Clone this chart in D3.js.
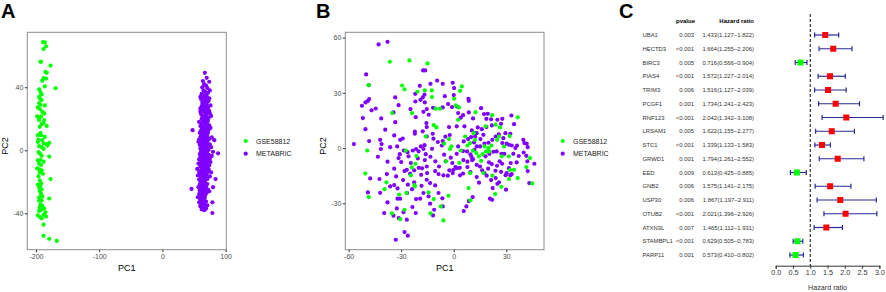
<!DOCTYPE html>
<html>
<head>
<meta charset="utf-8">
<script src="https://cdn.jsdelivr.net/npm/d3@7"></script>
<style>
  body { margin: 0; background: #fff; }
  svg text { font-family: "Liberation Sans", Arial, sans-serif; }
</style>
</head>
<body>
<div id="chart"></div>
<script>
// ---- panel A: PCA before batch correction ----
const pcaA_gse = [
  [-189,68.7],[-186,68.5],[-184,66.0],[-188,64.3],[-192,56.2],[-193,56.2],[-177,53.8],[-185,49.8],
  [-183,49.2],[-188,45.8],[-190,44.1],[-184,45.5],[-186,40.6],[-169,39.4],[-195,38.7],[-193,37.0],
  [-191,35.5],[-195,34.0],[-194,33.0],[-191,31.9],[-195,30.0],[-193,28.9],[-186,28.5],[-197,27.2],
  [-194,26.2],[-190,24.5],[-198,21.5],[-192,21.5],[-195,20.2],[-187,23.4],[-195,19.2],[-188,17.4],
  [-183,15.5],[-194,14.9],[-197,9.6],[-192,9.6],[-186,8.5],[-190,6.4],[-188,4.3],[-183,3.8],
  [-179,4.7],[-182,3.0],[-197,5.3],[-195,2.6],[-191,2.1],[-188,0.9],[-196,-1.1],[-194,-2.1],
  [-191,-3.4],[-179,-4.0],[-193,-6.0],[-197,-6.4],[-188,-7.2],[-195,-8.5],[-192,-9.4],[-198,-11.5],
  [-195,-12.1],[-191,-12.8],[-194,-14.0],[-189,-14.9],[-177,-18.3],[-196,-16.6],[-194,-19.2],[-192,-20.9],
  [-197,-21.7],[-193,-22.6],[-195,-23.8],[-191,-24.9],[-194,-26.0],[-192,-27.7],[-190,-29.4],[-195,-29.8],
  [-179,-30.6],[-191,-31.9],[-193,-34.5],[-190,-35.1],[-194,-36.2],[-190,-36.8],[-187,-37.0],[-192,-37.9],
  [-185,-39.4],[-195,-38.5],[-188,-40.9],[-193,-42.6],[-191,-43.2],[-184,-42.1],[-188,-47.2],[-188,-54.3],
  [-179,-56.2],[-167,-57.5],[-197,-41.3],[-195,-31.9],[-196,6.8],[-193,11.0],[-191,16.6],[-187,19.2]
];
const pcaA_meta = [
  [67,49.2],[70,46],[64,44],[74,43.5],[66,42],[69,41],[63,40],[71,39.5],[65,38],[68,37],
  [72,36.5],[62,35.8],[67,35],[70,34.2],[64,33.5],[74,33],[61,32.5],[68,32],[66,31.2],[71,30.8],
  [63,30.2],[69,36],[75,38],[60,34],[73,31.5],
  [65,29.5],[70,29],[76,28.5],[62,28],[67,27.4],[72,27],[60,26.5],[64,26],[69,25.5],[74,25],
  [66,24.4],[71,23.8],[75,23.4],[61,23],[68,22.5],[63,22],[70,21.5],[65,21],[73,20.5],[67,20.2],
  [60,24.5],[77,21.8],[62,20],
  [69,19.5],[64,19],[72,18.6],[58,18],[66,17.8],[70,17.2],[62,16.8],[68,16.2],[74,15.8],[60,15.4],
  [65,15],[71,14.6],[63,14],[67,13.5],[73,13],[47.7,12.8],[61,12.5],[69,12],[65,11.5],[72,11.2],
  [59,11],[66,10.6],[70,10.2],[63,10],[76,14.2],[68,18.2],
  [62,9.5],[67,9.2],[71,8.8],[60,8.4],[65,8],[69,7.5],[74,7.2],[58,6.8],[63,6.5],[67,6.2],
  [82,6.4],[71,5.8],[61,5.4],[66,5],[70,4.6],[64,4.2],[75,3.8],[59,3.5],[68,3.2],[62,2.8],
  [72,2.5],[65,2],[70,1.6],[60,1.2],[67,0.8],[63,0.4],[73,0.2],[77,2],[57,5.5],[78,8.2],
  [66,-0.4],[61,-0.8],[70,-1.2],[88,-1.9],[64,-1.6],[68,-2],[59,-2.4],[73,-2.8],[62,-3.2],[66,-3.5],
  [71,-3.9],[60,-4.3],[65,-4.7],[69,-5],[75,-5.4],[58,-5.8],[63,-6.2],[67,-6.5],[72,-6.9],[61,-7.3],
  [65,-7.7],[70,-8],[57,-8.4],[62,-8.8],[68,-9.2],[74,-9.5],[64,-9.8],[78,-3.6],[76,-7.5],[80,-1],
  [60,-10.3],[66,-10.7],[71,-11],[63,-11.4],[55,-11.8],[68,-12.2],[61,-12.6],[65,-13],[73,-13.4],[58,-13.8],
  [67,-14.2],[62,-14.6],[70,-15],[64,-15.4],[59,-15.8],[69,-16.2],[75,-16.6],[61,-17],[66,-17.4],[84,-18.3],
  [63,-17.8],[71,-18.2],[58,-18.6],[67,-19],[62,-19.4],[65,-19.8],[73,-12],[56,-16],[77,-14],
  [60,-20.2],[68,-20.6],[64,-21],[71,-21.4],[59,-21.8],[66,-22.2],[62,-22.6],[80,-23.4],[69,-23],[57,-23.4],
  [65,-23.8],[61,-24.2],[46,-24.5],[67,-24.6],[72,-25],[59,-25.4],[63,-25.8],[66,-26.2],[60,-26.6],[70,-27],
  [64,-27.4],[58,-27.8],[68,-28.2],[62,-28.6],[65,-29],[61,-29.4],[74,-26],[56,-29.8],
  [67,-30.2],[63,-30.6],[60,-31],[66,-31.4],[79,-33],[62,-32],[69,-32.5],[58,-33],[64,-33.5],[61,-34],
  [67,-34.5],[71,-35],[60,-35.5],[65,-36],[63,-36.5],[69,-37],[79,-39.8],[62,-37.5],[66,-38]
];

// ---- panel B: PCA after batch correction ----
const pcaB_gse = [
  [-36.5,46.9],[-25.3,47.6],[-15.0,46.0],[-48.6,34.2],[-29.5,34.0],[-28.1,31.9],[-20.7,30.6],[-16.5,31.3],
  [-12.5,31.3],[4.6,33.5],[3.6,31.1],[0.2,26.8],[-12.4,27.7],[-10.3,21.4],[-7.8,21.4],[1.1,23.2],
  [3.0,22.1],[2.5,15.4],[12.4,19.5],[21.9,17.9],[36.5,16.7],[23.9,12.7],[26.4,11.2],[25.8,6.3],
  [31.9,6.5],[18.2,11.8],[11.4,8.1],[12.2,4.5],[9.3,2.7],[7.8,1.4],[6.5,6.3],[11.0,-1.4],
  [12.9,-2.7],[17.5,0.9],[19.8,0.0],[18.4,-1.8],[16.5,-3.3],[14.3,-4.5],[15.6,-6.9],[20.3,-1.8],
  [21.5,1.4],[24.7,4.5],[28.7,0.9],[27.4,-4.5],[31.4,-4.5],[32.1,-11.9],[31.5,-16.8],[36.5,-16.3],
  [41.4,-10.3],[43.5,-5.4],[44.8,-19.2],[34.4,-11.8],[22.0,-15.0],[23.6,-25.0],[27.2,-21.0],[16.9,-13.6],
  [8.4,-21.7],[9.5,-28.4],[9.3,-13.6],[3.2,-8.0],[4.0,-1.3],[-1.3,0.9],[-2.7,4.9],[-2.1,-0.5],
  [-5.5,2.4],[-4.4,-7.2],[-9.9,11.2],[-11.4,12.5],[-16.0,6.3],[-27.4,-1.4],[-23.9,-10.5],[-21.3,-4.3],
  [-21.9,-8.5],[-24.5,-14.8],[-22.4,-20.1],[-27.0,-24.4],[-31.2,-25.2],[-28.1,-33.5],[-30.6,-38.6],[-35.3,-35.5],
  [-38.4,-18.6],[-39.5,-22.3],[-48.5,-26.6],[-50.5,-13.8],[-49.4,-1.3],[-35.2,19.0],[-23.8,19.0],[-14.4,-24.1],
  [-13.3,-35.5],[-11.4,-27.7],[-5.9,-39.3],[-3.0,-25.9],[-7.4,-31.7],[-22.2,-20.8]
];
const pcaB_meta = [
  [-42.9,56.3],[-37.8,57.7],[-50.0,40.0],[-48.5,34.2],[-48.3,26.6],[-49.2,25.5],[-50.4,24.8],[-52.4,23.0],
  [-46.9,20.5],[-44.5,21.5],[-51.9,16.3],[-41.4,16.1],[-57.0,2.2],[-50.4,10.3],[-48.3,3.8],[-41.6,-0.5],
  [-42.0,4.5],[-41.2,2.2],[-43.3,-4.7],[-37.8,-7.4],[-36.3,0.5],[-39.1,10.0],[-33.4,27.5],[-31.5,23.3],
  [-34.4,19.4],[-33.4,14.1],[-34.0,6.9],[-30.6,4.5],[-29.1,5.2],[-30.8,-3.3],[-34.0,-11.2],[-32.9,-15.4],
  [-34.0,-20.1],[-32.1,-21.9],[-32.1,-27.5],[-30.6,-27.5],[-32.5,-32.8],[-34.4,-36.7],[-31.4,-38.0],[-28.7,-34.8],
  [-26.8,-38.9],[-28.1,-45.6],[-26.2,-47.6],[-33.1,-49.8],[-37.8,-29.5],[-39.7,-35.3],[-42.0,-24.3],[-42.4,-16.8],
  [-47.7,-16.5],[-49.0,-24.1],[-38.2,-14.1],[-36.3,-20.8],[-28.9,-17.4],[-28.1,-12.5],[-24.9,-13.9],[-24.5,-8.1],
  [-25.8,-4.5],[-21.5,-0.5],[-20.5,-5.6],[-18.8,0.9],[-16.7,1.6],[-20.0,-10.7],[-18.1,-11.0],[-15.4,-17.2],
  [-15.4,-10.0],[-10.6,-12.5],[-10.6,-20.3],[-8.7,-24.4],[-6.5,-27.3],[-6.3,-31.7],[-11.2,-33.5],[-11.8,-36.6],
  [-14.4,-26.2],[-13.5,-30.2],[-18.4,-20.5],[-21.5,-27.7],[-21.7,-35.3],[-23.6,-32.0],[-26.6,-24.4],[-17.5,42.2],
  [-16.3,42.2],[-9.5,36.7],[-6.3,34.9],[-13.3,34.9],[-19.4,33.8],[-0.6,35.5],[0.2,32.6],[-5.1,28.2],
  [0.0,28.8],[8.4,26.8],[8.6,25.7],[-16.7,29.0],[-17.7,27.5],[-19.0,26.2],[-16.5,24.8],[-15.4,21.2],
  [-17.3,19.7],[-22.0,29.5],[-21.9,25.3],[-24.7,21.2],[-21.7,16.8],[-22.2,8.9],[-22.2,7.8],[-17.7,9.1],
  [-15.6,13.6],[-15.4,11.4],[-12.0,7.8],[-11.6,5.1],[-14.3,18.1],[-11.8,21.9],[-6.3,22.1],[-3.2,23.9],
  [-1.0,22.3],[1.7,22.6],[2.5,19.0],[-2.7,11.4],[-4.8,6.2],[-2.3,7.1],[-6.3,3.8],[-6.8,1.4],
  [-5.5,-3.6],[-4.6,-7.2],[-1.7,-5.2],[-0.8,-8.1],[1.7,-3.1],[-0.6,-13.6],[1.0,-10.3],[3.4,-10.7],
  [5.5,-6.5],[7.8,-7.4],[10.1,-4.7],[11.0,-6.0],[7.6,-1.8],[11.8,-0.9],[5.3,-1.6],[2.5,0.9],
  [5.7,3.6],[8.2,4.9],[9.9,6.0],[10.3,9.6],[6.1,11.8],[1.7,11.8],[4.0,16.5],[5.3,17.9],
  [8.6,19.4],[11.0,16.1],[15.6,21.7],[17.3,18.5],[19.4,18.6],[18.6,15.9],[21.3,15.6],[21.7,12.3],
  [18.6,11.4],[16.0,10.3],[13.7,11.2],[11.8,8.1],[16.9,7.2],[13.1,8.1],[12.2,6.3],[11.6,3.1],
  [15.2,4.9],[13.1,0.9],[15.0,0.9],[17.5,2.4],[19.8,2.9],[22.0,4.5],[23.9,6.3],[25.7,7.4],
  [24.9,15.4],[27.7,15.9],[27.0,13.2],[32.9,17.7],[34.4,13.0],[32.3,7.8],[29.5,8.1],[28.3,5.4],
  [27.7,2.7],[30.2,2.4],[31.5,1.8],[33.1,1.4],[35.2,0.0],[36.1,1.3],[39.7,4.5],[40.3,2.7],
  [41.6,2.4],[42.2,0.5],[39.9,-2.4],[41.4,-4.2],[42.0,-7.2],[46.0,-8.5],[42.2,-12.5],[43.1,-19.0],
  [35.9,-7.8],[37.1,-4.3],[34.0,-3.1],[32.5,-8.1],[31.5,-10.9],[30.2,-13.6],[33.1,-14.1],[29.8,-22.6],
  [22.2,-21.7],[20.7,-27.5],[21.9,-28.1],[24.9,-19.4],[23.9,-16.3],[21.3,-17.4],[18.8,-15.0],[17.5,-13.6],
  [16.2,-12.1],[15.0,-10.0],[13.1,-9.1],[10.5,-6.5],[9.5,-3.4],[18.1,-4.5],[20.3,-3.1],[22.6,-2.0],
  [24.5,-1.8],[27.2,-3.1],[28.9,-3.1],[26.2,-7.2],[27.6,-8.5],[24.7,-9.6],[21.7,-8.7],[20.1,-7.8],
  [19.6,-11.2],[23.8,-12.3],[27.0,-12.9],[29.6,-14.7],[32.3,-14.7],[25.8,-18.6],[8.6,-28.8],[7.2,-31.7],
  [5.7,-34.2],[10.8,-26.6],[14.4,-18.8],[13.1,-15.7],[9.5,-13.0],[7.8,-10.3],[5.3,-13.8],[3.6,-14.8],
  [1.7,-10.9],[-0.2,-11.8],[-2.5,-12.1],[-3.4,-15.0],[-5.9,-14.8],[-8.7,-14.1],[-8.4,-10.0],[-10.5,-7.2],
  [-13.3,-4.7],[-16.0,-3.3],[-16.5,-6.5],[-12.4,-0.4],[-9.1,3.3],[-15.4,6.3],[-17.3,-0.5],[-20.1,-1.8],
  [-23.4,-1.3],[-26.4,-2.2],[-28.5,-1.3],[-32.3,0.9],[-30.0,-7.6],[-31.5,-5.4],[-26.8,-11.8],[-22.6,-12.1],
  [-18.6,-14.5],[-15.2,-13.6],[-13.5,-19.0],[-17.3,-24.4],[-19.2,-27.5],[-26.2,-19.9],[-23.8,-22.3],[-22.6,-18.6]
];

// ---- panel C: univariate Cox forest plot ----
const genes  = ["UBA1","HECTD3","BIRC3","PIAS4","TRIM3","PCGF1","RNF123","LRSAM1","STC1",
                "GRWD1","EED","GNB2","USP30","OTUB2","ATXN3L","STAMBPL1","PARP11"];
const pvals  = ["0.003","<0.001","0.005","<0.001","0.006","0.001","<0.001","0.005","<0.001",
                "0.001","0.009","0.006","0.006","<0.001","0.007","<0.001","0.001"];
const hr     = [1.433,1.664,0.716,1.572,1.516,1.734,2.042,1.622,1.339,1.794,0.613,1.575,1.867,2.021,1.465,0.629,0.573];
const hrLow  = [1.127,1.255,0.566,1.227,1.127,1.241,1.342,1.155,1.133,1.261,0.425,1.141,1.197,1.396,1.112,0.505,0.410];
const hrHigh = [1.822,2.206,0.904,2.014,2.039,2.423,3.108,2.277,1.583,2.552,0.885,2.175,2.911,2.926,1.931,0.783,0.802];
const hrTicks = [0, 0.5, 1, 1.5, 2, 2.5, 3];

const GREEN = "#00ff00", PURPLE = "#7f00ff";

const svg = d3.select("#chart").append("svg")
  .attr("width", 886).attr("height", 292);

// generic pca panel, ggplot theme_bw-ish without grid
const drawPca = (cfg) => {
  const x = d3.scaleLinear().domain(cfg.xDomain).range(cfg.xRange);
  const y = d3.scaleLinear().domain(cfg.yDomain).range(cfg.yRange);
  const g = svg.append("g");

  g.append("rect")
    .attr("x", cfg.xRange[0]).attr("y", cfg.yRange[1])
    .attr("width", cfg.xRange[1] - cfg.xRange[0])
    .attr("height", cfg.yRange[0] - cfg.yRange[1])
    .attr("fill", "none").attr("stroke", "#8c8c8c").attr("stroke-width", 1);

  const fmt = (d) => String(d);
  const xa = g.append("g").attr("transform", `translate(0,${cfg.yRange[0]})`)
    .call(d3.axisBottom(x).tickValues(cfg.xTicks).tickSize(2.5).tickPadding(1.5).tickFormat(fmt));
  const ya = g.append("g").attr("transform", `translate(${cfg.xRange[0]},0)`)
    .call(d3.axisLeft(y).tickValues(cfg.yTicks).tickSize(2.5).tickPadding(1.5).tickFormat(fmt));
  [xa, ya].forEach((a) => {
    a.select(".domain").remove();
    a.selectAll("line").attr("stroke", "#333");
    a.selectAll("text").attr("fill", "#4d4d4d").style("font-size", "7px");
  });

  g.append("g").selectAll("circle").data(cfg.meta).join("circle")
    .attr("cx", (d) => x(d[0])).attr("cy", (d) => y(d[1]))
    .attr("r", 2.1).attr("fill", PURPLE);
  g.append("g").selectAll("circle").data(cfg.gse).join("circle")
    .attr("cx", (d) => x(d[0])).attr("cy", (d) => y(d[1]))
    .attr("r", 2.1).attr("fill", GREEN);

  const midX = (cfg.xRange[0] + cfg.xRange[1]) / 2;
  g.append("text").attr("x", midX).attr("y", 270.5)
    .attr("text-anchor", "middle").style("font-size", "9px").text("PC1");
  g.append("text")
    .attr("transform", `translate(${cfg.xRange[0] - 19},146) rotate(-90)`)
    .attr("text-anchor", "middle").style("font-size", "9px").text("PC2");

  // legend
  const lg = g.append("g").attr("transform", `translate(${cfg.legendX},0)`);
  [["GSE58812", GREEN, 141], ["METABRIC", PURPLE, 153.7]].forEach(([lab, col, ly]) => {
    lg.append("circle").attr("cx", 0).attr("cy", ly).attr("r", 2.1).attr("fill", col);
    lg.append("text").attr("x", 10.3).attr("y", ly + 2.5)
      .attr("fill", "#222").style("font-size", "7px").text(lab);
  });

  g.append("text").attr("x", cfg.labelX).attr("y", 18)
    .style("font-size", "20px").style("font-weight", "bold").text(cfg.label);
};

drawPca({
  label: "A", labelX: 1,
  gse: pcaA_gse, meta: pcaA_meta,
  xDomain: [-213.7, 101], xRange: [27.3, 226.3],
  yDomain: [-63.1, 74.9], yRange: [249.7, 32.3],
  xTicks: [-200, -100, 0, 100], yTicks: [-40, 0, 40],
  legendX: 245.7
});

drawPca({
  label: "B", labelX: 316,
  gse: pcaB_gse, meta: pcaB_meta,
  xDomain: [-61.9, 51.5], xRange: [345.3, 544],
  yDomain: [-55.2, 62.9], yRange: [249.7, 32.3],
  xTicks: [-60, -30, 0, 30], yTicks: [-30, 0, 30, 60],
  legendX: 562.7
});

// forest plot
const fc = svg.append("g");
const xf = d3.scaleLinear().domain([0, 3]).range([775.7, 879.4]);
const rowY = (i) => 35 + i * 13.75;
const BAR = "#28289a";

fc.append("text").attr("x", 619).attr("y", 18)
  .style("font-size", "20px").style("font-weight", "bold").text("C");

fc.append("text").attr("x", 695).attr("y", 23).attr("text-anchor", "end")
  .style("font-size", "6px").style("font-weight", "bold").text("pvalue");
fc.append("text").attr("x", 754).attr("y", 23).attr("text-anchor", "end")
  .style("font-size", "6px").style("font-weight", "bold").text("Hazard ratio");

const rows = fc.append("g").selectAll("g").data(genes).join("g")
  .attr("transform", (d, i) => `translate(0,${rowY(i)})`);

rows.append("text").attr("x", 642.5).attr("y", 2.1)
  .attr("fill", "#333").style("font-size", "5.9px").text((d) => d);
rows.append("text").attr("x", 694).attr("y", 2.1).attr("text-anchor", "end")
  .attr("fill", "#333").style("font-size", "5.9px").text((d, i) => pvals[i]);
rows.append("text").attr("x", 754).attr("y", 2.1).attr("text-anchor", "end")
  .attr("fill", "#333").style("font-size", "5.9px")
  .text((d, i) => `${hr[i].toFixed(3)}(${hrLow[i].toFixed(3)}\u2212${hrHigh[i].toFixed(3)})`);

fc.append("line")
  .attr("x1", xf(1)).attr("x2", xf(1)).attr("y1", 14).attr("y2", 266)
  .attr("stroke", "#222").attr("stroke-width", 1.1).attr("stroke-dasharray", "3,2");

rows.append("line")
  .attr("x1", (d, i) => xf(hrLow[i])).attr("x2", (d, i) => xf(hrHigh[i]))
  .attr("stroke", BAR).attr("stroke-width", 1.2);
rows.append("line")
  .attr("x1", (d, i) => xf(hrLow[i])).attr("x2", (d, i) => xf(hrLow[i]))
  .attr("y1", -2.5).attr("y2", 2.5).attr("stroke", BAR).attr("stroke-width", 1.2);
rows.append("line")
  .attr("x1", (d, i) => xf(hrHigh[i])).attr("x2", (d, i) => xf(hrHigh[i]))
  .attr("y1", -2.5).attr("y2", 2.5).attr("stroke", BAR).attr("stroke-width", 1.2);
rows.append("rect")
  .attr("x", (d, i) => xf(hr[i]) - 3).attr("y", -3)
  .attr("width", 6).attr("height", 6)
  .attr("fill", (d, i) => (hr[i] > 1 ? "#ff0000" : GREEN));

const xfa = fc.append("g").attr("transform", "translate(0,265.7)")
  .call(d3.axisBottom(xf).tickValues(hrTicks).tickSize(3).tickPadding(1.5).tickFormat(d3.format(".1f")));
xfa.select(".domain").attr("stroke", "#333");
xfa.selectAll("line").attr("stroke", "#333");
xfa.selectAll("text").attr("fill", "#333").style("font-size", "7.2px");

fc.append("text").attr("x", xf(1.5)).attr("y", 290)
  .attr("text-anchor", "middle").attr("fill", "#333").style("font-size", "7.2px").text("Hazard ratio");
</script>
</body>
</html>
